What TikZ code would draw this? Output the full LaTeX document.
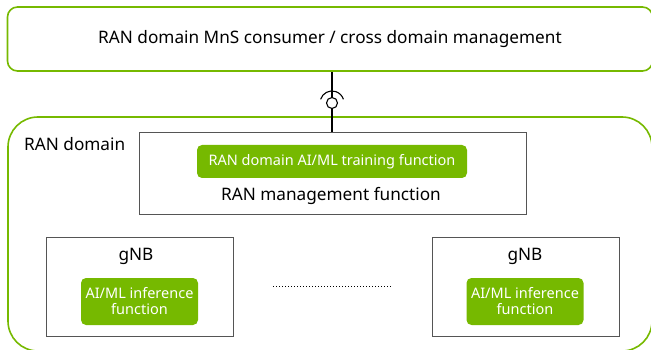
\documentclass[tikz,border=0pt]{standalone}
\usepackage{fontspec}
\setmainfont{Noto Sans}
\definecolor{nvgreen}{HTML}{76B900}
\definecolor{boxgray}{HTML}{555555}
\tikzset{
  domainbox/.style={draw=nvgreen, line width=1.6pt, inner sep=0pt},
  funcbox/.style={draw=boxgray, line width=0.9pt, inner sep=0pt},
  aibox/.style={fill=nvgreen, rounded corners=5pt, inner sep=0pt, text=white,
    align=center, font=\fontsize{14.5}{16}\selectfont},
  lbl/.style={inner sep=0pt, font=\fontsize{17.2}{19}\selectfont},
  link/.style={draw=black, line width=1.1pt},
}

\begin{document}
\begin{tikzpicture}[x=1pt, y=-1pt]
    \useasboundingbox (0,0) rectangle (651,350);
    \clip (0,0) rectangle (651,350);

    % consumer on top
    \node[domainbox, rounded corners=10pt, minimum width=645pt, minimum height=64pt, lbl]
        (mns) at (330,39) {RAN domain MnS consumer / cross domain management};

    % RAN domain
    \node[domainbox, rounded corners=30pt, minimum width=644pt, minimum height=234pt]
        (ran) at (330,234) {};
    \node[lbl, anchor=west] (rantxt) at (24,144) {RAN domain};

    % management function
    \node[funcbox, minimum width=387pt, minimum height=82pt] (mgmt) at (332.5,173) {};
    \node[aibox, minimum width=270pt, minimum height=33pt] (train) at (332,161.5)
        {RAN domain AI/ML training function};
    \node[lbl] (mgmttxt) at (331,196) {RAN management function};

    % gNBs
    \node[funcbox, minimum width=187pt, minimum height=99pt] (gnbl) at (139.5,286.5) {};
    \node[lbl] (gnbltxt) at (136,256) {gNB};
    \node[aibox, minimum width=117pt, minimum height=47pt] (infl) at (139.5,301.5)
        {AI/ML inference\\function};

    \node[funcbox, minimum width=187pt, minimum height=99pt] (gnbr) at (525.5,286.5) {};
    \node[lbl] (gnbrtxt) at (525,256) {gNB};
    \node[aibox, minimum width=117pt, minimum height=47pt] (infr) at (525,301.5)
        {AI/ML inference\\function};

    \draw[dotted, line width=1pt] ([xshift=40pt]gnbl.east) -- ([xshift=-40pt]gnbr.west);

    % MnS interface
    \node[link, circle, minimum size=11pt, inner sep=0pt] (ifc) at (332,103) {};
    \draw[link] (mns.south -| ifc) -- (ifc.north);
    \draw[link] (ifc.south) -- (mgmt.north -| ifc);
    \draw[link] (ifc.center) ++(-162:12) arc(-162:-18:12);
\end{tikzpicture}
\end{document}
